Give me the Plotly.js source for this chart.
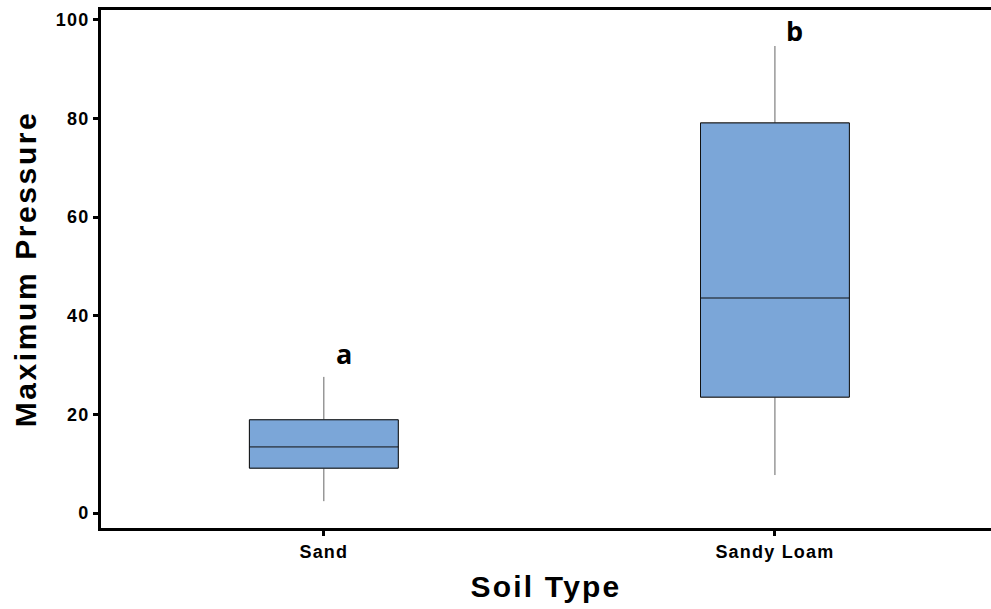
<!DOCTYPE html>
<html>
<head>
<meta charset="utf-8">
<script src="https://cdn.plot.ly/plotly-3.0.1.min.js"></script>
<style>
html,body{margin:0;padding:0;background:#fff;}
#chart{width:991px;height:609px;}
#chart .ytitle{letter-spacing:2.6px;}
#chart .xtitle{letter-spacing:2.2px;}
#chart .xtick text,#chart .ytick text{letter-spacing:1.2px;}
</style>
</head>
<body>
<div id="chart"></div>
<script>
// Data
const categories = ['Sand', 'Sandy Loam'];
const lowerWhisker = [2.4, 7.7];
const q1Values = [9.1, 23.5];
const medianValues = [13.4, 43.6];
const q3Values = [18.9, 79.1];
const upperWhisker = [27.6, 94.7];
const letters = ['a', 'b'];
const letterY = [32.3, 97.8];

const boxFill = '#7BA6D8';

const whiskerTrace = {
  type: 'box',
  x: categories,
  q1: q1Values,
  median: medianValues,
  q3: q3Values,
  lowerfence: lowerWhisker,
  upperfence: upperWhisker,
  fillcolor: boxFill,
  line: {color: '#666', width: 1},
  whiskerwidth: 0,
  width: 0.33,
  boxpoints: false,
  hoverinfo: 'skip',
  showlegend: false
};
const boxTrace = {
  type: 'box',
  x: categories,
  q1: q1Values,
  median: medianValues,
  q3: q3Values,
  lowerfence: q1Values,
  upperfence: q3Values,
  fillcolor: boxFill,
  line: {color: '#111', width: 1},
  whiskerwidth: 0,
  width: 0.33,
  boxpoints: false,
  showlegend: false
};

const annotations = categories.map((c, i) => ({
  x: c, y: letterY[i], xref: 'x', yref: 'y',
  text: letters[i], showarrow: false,
  xanchor: 'center', yanchor: 'middle',
  xshift: 20,
  font: {family: 'Open Sans, sans-serif', size: 27, color: '#000', weight: 'bold'}
}));

const layout = {
  width: 991, height: 609,
  margin: {l: 101, r: 0, t: 10, b: 81},
  paper_bgcolor: '#fff', plot_bgcolor: '#fff',
  boxmode: 'overlay',
  showlegend: false,
  xaxis: {
    type: 'category',
    range: [-0.494, 1.479],
    showline: true, linecolor: '#000', linewidth: 3, mirror: true,
    ticks: 'outside', ticklen: 5, tickwidth: 3, tickcolor: '#000',
    showgrid: false, zeroline: false,
    tickfont: {family: 'Liberation Sans, Arial, sans-serif', size: 18, color: '#000', weight: 'bold'},
    title: {text: 'Soil Type', standoff: 16,
      font: {family: 'Liberation Sans, Arial, sans-serif', size: 30, color: '#000', weight: 'bold'}}
  },
  yaxis: {
    range: [-3.04, 102.0],
    tickvals: [0, 20, 40, 60, 80, 100],
    showline: true, linecolor: '#000', linewidth: 3, mirror: false,
    ticks: 'outside', ticklen: 5, tickwidth: 3, tickcolor: '#000',
    showgrid: false, zeroline: false,
    tickfont: {family: 'Liberation Sans, Arial, sans-serif', size: 18, color: '#000', weight: 'bold'},
    title: {text: 'Maximum Pressure', standoff: 14,
      font: {family: 'Liberation Sans, Arial, sans-serif', size: 30, color: '#000', weight: 'bold'}}
  },
  annotations: annotations
};

Plotly.newPlot('chart', [whiskerTrace, boxTrace], layout, {staticPlot: true, displayModeBar: false});
</script>
</body>
</html>
